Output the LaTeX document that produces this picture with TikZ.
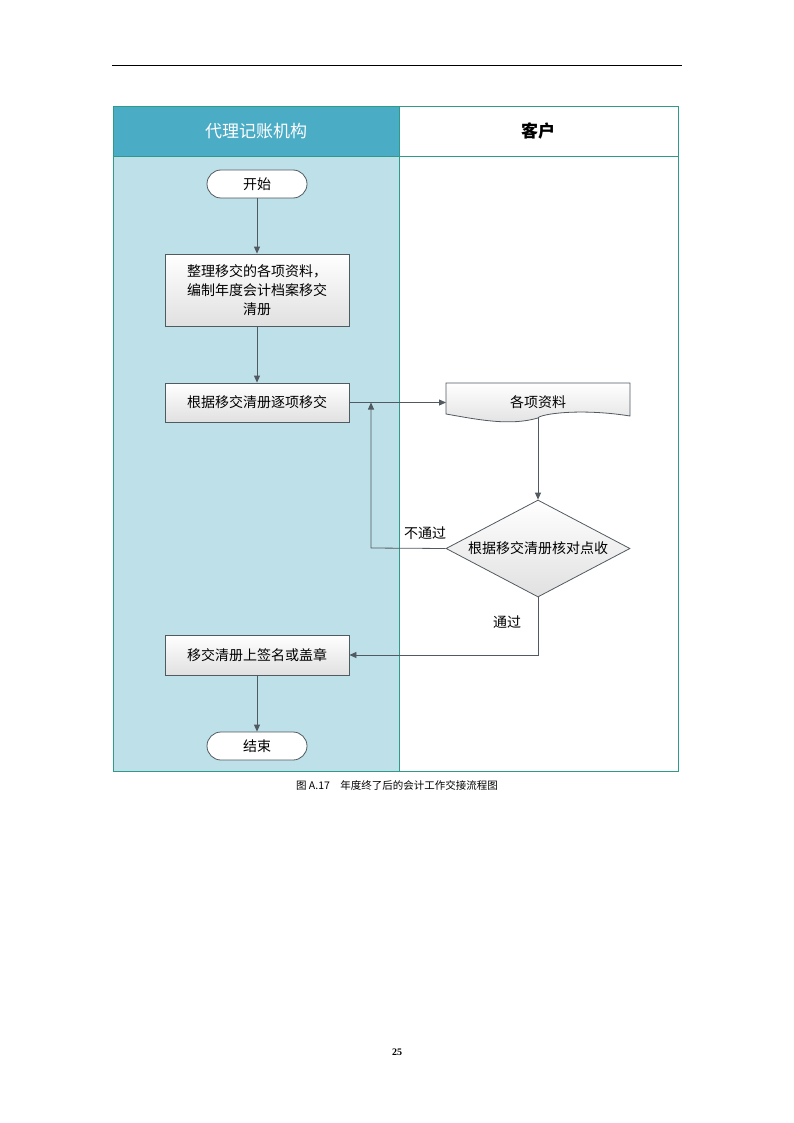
\documentclass[tikz,border=0pt]{standalone}
\usepackage{fontspec}
\setmainfont{Liberation Serif}
\newfontfamily\cjk{Noto Sans CJK SC}
\usetikzlibrary{shapes.geometric,arrows.meta}
\definecolor{lane}{HTML}{BEE0E8}
\definecolor{head}{HTML}{4BACC6}
\definecolor{bord}{HTML}{2E9A8A}
\definecolor{ln}{HTML}{505A60}
\tikzset{x=1pt,y=-1pt,
 proc/.style={draw=ln,line width=0.8pt,top color=white,bottom color=black!12,minimum width=184pt,align=center,font=\cjk\fontsize{14}{19}\selectfont,inner sep=2pt},
 term/.style={draw=ln,line width=0.8pt,fill=white,rounded corners=14pt,minimum width=100pt,minimum height=28pt,font=\cjk\fontsize{14}{17}\selectfont},
 conn/.style={draw=ln,line width=0.8pt,-{Triangle[length=7pt,width=6pt]}},
 lbl/.style={font=\cjk\fontsize{14}{17}\selectfont}}
\begin{document}
\begin{tikzpicture}
\useasboundingbox (0,0) rectangle (794,1123);
\draw[line width=0.6pt] (112,65) -- (682,65);
\fill[lane] (113,156) rectangle (399,771);
\fill[head] (113,106) rectangle (399,156);
\draw[bord,line width=0.8pt] (113,106) rectangle (678,771);
\draw[bord,line width=0.8pt] (399,106) -- (399,771) (113,156) -- (678,156);
\node[font=\cjk\fontsize{17}{20}\selectfont,text=white] (h1) at (256,131) {代理记账机构};
\node[font=\cjk\bfseries\fontsize{17}{20}\selectfont] (h2) at (538,131) {客户};
\node[term] (start) at (257,184) {开始};
\node[proc,minimum height=72pt] (b1) at (257,290) {整理移交的各项资料，\\编制年度会计档案移交\\清册};
\node[proc,minimum height=39pt] (b2) at (257,402.5) {根据移交清册逐项移交};
\draw[ln,line width=0.8pt,top color=white,bottom color=black!12] (446,383) -- (630,383) -- (630,416) .. controls (580,408) and (540,414) .. (538,418) .. controls (510,426) and (480,420) .. (446,414) -- cycle;
\node[lbl] (doc) at (538,402) {各项资料};
\coordinate (docb) at (538,418);
\node[diamond,draw=ln,line width=0.8pt,top color=white,bottom color=black!12,minimum width=184pt,minimum height=97pt,aspect=1.9,inner sep=0pt] (dia) at (538,548.5) {};
\node[lbl] at (538,548) {根据移交清册核对点收};
\node[proc,minimum height=40pt] (b3) at (257,655) {移交清册上签名或盖章};
\node[term] (end) at (257,746) {结束};
\draw[conn] (start) -- (b1);
\draw[conn] (b1) -- (b2);
\draw[conn] (b2.east) -- (446,402.5);
\draw[conn] (docb) -- (dia.north);
\coordinate (fb) at (371,548);
\draw[conn] (dia.west) -- (fb) -- (371,402.5);
\node[lbl] (no) at (425,533) {不通过};
\coordinate (yc) at (538,655);
\draw[conn] (dia.south) -- (yc) -- (b3.east);
\node[lbl] (yes) at (507,622) {通过};
\draw[conn] (b3) -- (end);
\node[font=\cjk\fontsize{10.5}{12}\selectfont] (cap) at (397,785) {图 A.17\quad 年度终了后的会计工作交接流程图};
\node[font=\bfseries\fontsize{10}{12}\selectfont] (pg) at (397,1052) {25};
\end{tikzpicture}
\end{document}
